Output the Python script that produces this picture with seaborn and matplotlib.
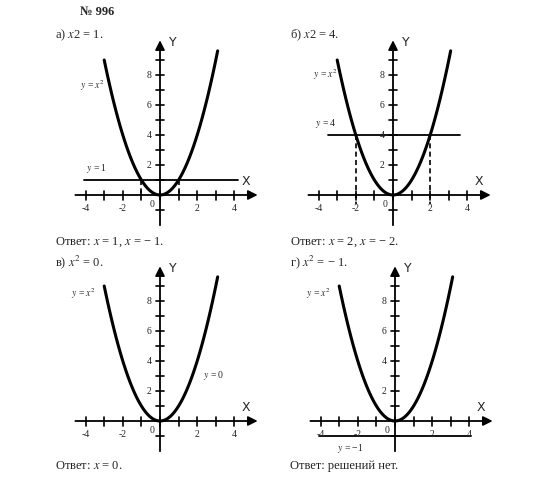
import matplotlib
matplotlib.use("Agg")
import matplotlib.pyplot as plt
import seaborn as sns
import numpy as np
import pandas as pd

sns.set_style("white")
plt.rcParams["font.family"] = ["Liberation Serif", "DejaVu Serif"]
plt.rcParams["mathtext.fontset"] = "stix"

# ── data ─────────────────────────────────────────────────────────────────────
curve_x = np.linspace(-3.0, 3.1, 121)
curve = pd.DataFrame({"x": curve_x, "y": curve_x ** 2})
x_ticklabels = [-4, -2, 2, 4]
y_ticklabels = [2, 4, 6, 8]
panel_titles = ["а) $x$2 = 1.", "б) $x$2 = 4.", "в) $x^2$ = 0.", "г) $x^2$ = − 1."]
answers = ["Ответ: $x$ = 1, $x$ = − 1.", "Ответ: $x$ = 2, $x$ = − 2.",
           "Ответ: $x$ = 0.", "Ответ: решений нет."]
levels = [1, 4, 0, -1]
level_labels = ["$y$ = 1", "$y$ = 4", "$y$ = 0", "$y$ = −1"]
roots = [[-1, 1], [-2, 2], [], []]

W, H = 550, 483
fig = plt.figure(figsize=(W / 100, H / 100), dpi=100)
fig.patch.set_facecolor("white")

origins = [(160, 195), (393, 195), (160, 421), (395, 421)]
sx, sy = 18.6, 15.0
x0, x1, y0, y1 = -5.2, 5.6, -2.6, 10.6

for i, (ox, oy) in enumerate(origins):
    left = (ox + x0 * sx) / W
    bottom = 1 - (oy - y0 * sy) / H
    ax = fig.add_axes([left, bottom, (x1 - x0) * sx / W, (y1 - y0) * sy / H])
    ax.set_xlim(x0, x1)
    ax.set_ylim(y0, y1)
    ax.axis("off")

    # axes with arrows
    ax.annotate("", xy=(5.4, 0), xytext=(-4.7, 0),
                arrowprops=dict(arrowstyle="-|>", color="k", lw=1.3, mutation_scale=14))
    ax.annotate("", xy=(0, 10.5), xytext=(0, -2.2),
                arrowprops=dict(arrowstyle="-|>", color="k", lw=1.3, mutation_scale=14))
    for t in range(-4, 5):
        ax.plot([t, t], [-0.3, 0.3], color="k", lw=1.2)
    for t in list(range(1, 10)) + [-1]:
        ax.plot([-0.2, 0.2], [t, t], color="k", lw=1.2)
    for t in x_ticklabels:
        ax.text(t, -0.6, str(t), ha="center", va="top", fontsize=7)
    ax.text(-0.3, -0.35, "0", ha="right", va="top", fontsize=7)
    for t in y_ticklabels:
        ax.text(-0.45, t, str(t), ha="right", va="center", fontsize=7)
    ax.text(4.6, 0.45, "X", ha="center", va="bottom", fontsize=9, family="DejaVu Sans")
    ax.text(0.5, 10.2, "Y", ha="left", va="center", fontsize=9, family="DejaVu Sans")

    sns.lineplot(data=curve, x="x", y="y", ax=ax, color="k", lw=2.2)

    lv = levels[i]
    if i == 0:
        ax.plot([-4.1, 4.2], [lv, lv], color="k", lw=1.3)
        ax.text(-4.0, 1.35, level_labels[i], fontsize=7, va="bottom")
        ax.text(-4.3, 7.3, "$y$ = $x^2$", fontsize=7, va="center")
    elif i == 1:
        ax.plot([-3.5, 3.6], [lv, lv], color="k", lw=1.3)
        ax.text(-4.2, 4.35, level_labels[i], fontsize=7, va="bottom")
        ax.text(-4.3, 8.0, "$y$ = $x^2$", fontsize=7, va="center")
    elif i == 2:
        ax.text(2.3, 3.0, level_labels[i], fontsize=7, va="center")
        ax.text(-4.8, 8.5, "$y$ = $x^2$", fontsize=7, va="center")
    else:
        ax.plot([-4.1, 4.1], [lv, lv], color="k", lw=1.3)
        ax.text(-3.1, -1.4, level_labels[i], fontsize=7, va="top")
        ax.text(-4.8, 8.5, "$y$ = $x^2$", fontsize=7, va="center")
    for r in roots[i]:
        ax.plot([r, r], [lv, -0.6 if i == 1 else 0], color="k", lw=1.2, ls=(0, (3, 2)))

fig.text(80 / W, 1 - 12 / H, "№ 996", fontsize=9, weight="bold", va="center")
for k, (xa, ya) in enumerate([(55, 35), (290, 35), (55, 262), (290, 262)]):
    fig.text(xa / W, 1 - ya / H, panel_titles[k], fontsize=9, va="center")
for k, (xa, ya) in enumerate([(55, 242), (290, 242), (55, 466), (290, 466)]):
    fig.text(xa / W, 1 - ya / H, answers[k], fontsize=9, va="center", color="#222222")

fig.savefig("out.png", dpi=100, facecolor="white")
